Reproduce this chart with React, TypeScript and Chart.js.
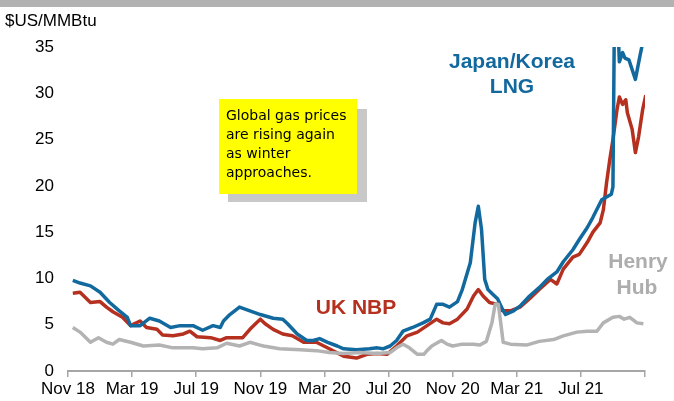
import React, { useEffect, useRef } from "react";
import { Chart, registerables } from "chart.js";

Chart.register(...registerables);

// months elapsed since 1 Nov 2018
const tickLabels = ["Nov 18", "Mar 19", "Jul 19", "Nov 19", "Mar 20", "Jul 20", "Nov 20", "Mar 21", "Jul 21", ""];

const jkmMonths = [0.3,0.75,1.4,2.0,2.6,3.2,3.7,3.9,4.5,5.1,5.7,6.4,7.0,7.8,8.4,9.05,9.5,9.7,10.1,10.7,11.35,12.0,12.8,13.4,13.7,14.3,14.9,15.3,15.7,16.2,16.8,17.2,18.0,18.8,19.3,19.65,20.1,20.5,20.9,21.5,22.15,22.6,23.0,23.4,23.8,24.3,24.6,25.1,25.4,25.6,25.8,26.0,26.2,26.5,26.8,27.1,27.3,27.8,28.2,28.8,29.4,29.9,30.5,30.9,31.5,31.9,32.4,32.75,33.3,33.9,34.0,34.1,34.25,34.4,34.6,34.75,35.0,35.4,35.67,35.86,36.0];
const jkmPrices = [9.8,9.5,9.2,8.5,7.4,6.5,5.8,4.9,4.9,5.7,5.4,4.7,4.9,4.9,4.4,4.9,4.7,5.4,6.1,6.9,6.5,6.1,5.7,5.6,5.1,4.0,3.3,3.3,3.5,3.1,2.7,2.4,2.3,2.4,2.5,2.4,2.7,3.3,4.3,4.7,5.2,5.6,7.2,7.2,6.9,7.5,8.8,11.7,16.0,17.8,15.3,9.9,8.8,8.3,7.8,6.7,6.1,6.5,7.0,8.1,9.0,9.9,10.7,11.8,13.1,14.2,15.5,16.6,18.5,19.1,19.9,40,40,33.4,34.4,33.8,33.6,31.5,33.9,35.5,40];

const nbpMonths = [0.3,0.75,1.4,2.0,2.4,2.8,3.4,3.9,4.5,4.9,5.55,5.9,6.55,7.2,7.6,8.05,8.9,9.5,9.9,10.9,11.35,11.7,12.0,12.3,12.8,13.4,14.0,14.7,15.5,16.3,17.2,18.0,18.65,19.3,19.9,20.5,21.15,21.8,22.4,23.0,23.4,23.8,24.3,24.9,25.3,25.6,25.9,26.3,26.8,27.1,27.6,28.2,28.8,29.4,30.1,30.5,30.9,31.5,31.9,32.4,32.75,33.2,33.4,33.6,33.8,34.0,34.25,34.4,34.6,34.8,34.9,35.2,35.4,35.6,35.85,36.05];
const nbpPrices = [8.4,8.5,7.4,7.5,6.9,6.4,5.8,4.9,5.4,4.7,4.5,3.9,3.8,4.0,4.3,3.7,3.6,3.3,3.6,3.6,4.5,5.1,5.6,5.1,4.5,4.0,3.8,3.1,3.1,2.4,1.6,1.4,1.8,1.9,1.8,2.7,3.8,4.2,4.9,5.6,5.2,5.1,5.6,6.7,8.1,8.8,8.1,7.4,7.2,6.5,6.5,6.9,7.8,8.8,9.9,9.4,11.0,12.3,12.6,13.9,15.0,16.0,17.4,20.3,22.8,25.0,28.2,29.6,28.8,29.3,27.9,26.1,23.6,25.3,28.2,29.8];

const hhMonths = [0.3,0.75,1.4,1.9,2.4,2.8,3.2,3.9,4.7,5.7,6.55,7.8,8.4,9.3,9.9,10.7,11.35,11.98,12.2,13.2,14.5,15.5,16.3,17.2,18.2,19.3,20.1,20.5,20.9,21.3,21.8,22.2,22.4,22.7,23.1,23.3,23.65,24.0,24.6,25.3,25.7,26.1,26.45,26.65,26.85,27.05,27.15,27.6,28.6,29.4,30.3,30.9,31.75,32.4,33.0,33.4,34.0,34.4,34.7,35.05,35.5,35.9];
const hhPrices = [4.7,4.2,3.1,3.6,3.1,2.9,3.4,3.1,2.7,2.8,2.5,2.5,2.4,2.5,3.0,2.7,3.1,2.8,2.7,2.4,2.3,2.2,2.0,1.9,2.0,1.9,2.0,2.5,2.9,2.5,1.8,1.8,2.2,2.7,3.1,3.3,2.9,2.7,2.9,2.9,2.8,3.2,5.2,7.2,7.2,4.5,3.1,2.9,2.8,3.2,3.4,3.8,4.2,4.3,4.3,5.2,5.8,5.9,5.6,5.8,5.2,5.1];

const BLUE = "#12699e";
const RED = "#b5301f";
const GREY = "#b3b3b3";

const zip = (xs: number[], ys: number[]) => xs.map((x, i) => ({ x, y: ys[i] }));

const decor = {
  id: "decor",
  afterDraw(chart: any) {
    const ctx = chart.ctx;
    ctx.save();
    // top grey band
    ctx.fillStyle = "#b2b2b2";
    ctx.fillRect(0, 0, 674, 7);
    // unit label
    ctx.fillStyle = "#000";
    ctx.font = "17px 'Liberation Sans', Arial, sans-serif";
    ctx.textBaseline = "middle";
    ctx.textAlign = "left";
    ctx.fillText("$US/MMBtu", 5, 21);
    // note box
    ctx.fillStyle = "#c8c8c8";
    ctx.fillRect(228, 109, 139, 93);
    ctx.fillStyle = "#ffff00";
    ctx.fillRect(219, 99, 138, 95);
    ctx.fillStyle = "#000";
    ctx.font = "14px 'DejaVu Sans', sans-serif";
    const lines = ["Global gas prices", "are rising again", "as winter", "approaches."];
    lines.forEach((t, i) => ctx.fillText(t, 226, 116 + i * 19));
    // series labels
    ctx.textAlign = "center";
    ctx.font = "bold 21px 'Liberation Sans', Arial, sans-serif";
    ctx.fillStyle = BLUE;
    ctx.fillText("Japan/Korea", 512, 62);
    ctx.fillText("LNG", 512, 87);
    ctx.fillStyle = RED;
    ctx.fillText("UK NBP", 356, 308);
    ctx.fillStyle = "#adadad";
    ctx.fillText("Henry", 638, 262);
    ctx.fillText("Hub", 637, 288);
    ctx.restore();
  },
};

export default function App() {
  const ref = useRef<HTMLCanvasElement>(null);
  useEffect(() => {
    if (!ref.current) return;
    const chart = new Chart(ref.current, {
      type: "line",
      data: {
        datasets: [
          { label: "Henry Hub", data: zip(hhMonths, hhPrices), borderColor: GREY, borderWidth: 3.5, pointRadius: 0, tension: 0, borderJoinStyle: "round" },
          { label: "Japan/Korea LNG", data: zip(jkmMonths, jkmPrices), borderColor: BLUE, borderWidth: 3.5, pointRadius: 0, tension: 0, borderJoinStyle: "round" },
          { label: "UK NBP", data: zip(nbpMonths, nbpPrices), borderColor: RED, borderWidth: 3.5, pointRadius: 0, tension: 0, borderJoinStyle: "round" },
        ],
      },
      options: {
        responsive: false,
        animation: false,
        layout: { padding: { top: 47, right: 29, left: 0, bottom: 0 } },
        plugins: { legend: { display: false }, tooltip: { enabled: false } },
        scales: {
          x: {
            type: "linear",
            min: 0,
            max: 36,
            afterFit: (s: any) => { s.height = 30; },
            border: { display: true, color: "#a6a6a6", width: 2 },
            grid: { display: true, drawOnChartArea: false, drawTicks: true, tickLength: 6, color: "#a6a6a6", lineWidth: 1.5 },
            ticks: {
              stepSize: 4,
              autoSkip: false,
              maxRotation: 0,
              padding: 2,
              color: "#000",
              font: { family: "'Liberation Sans', Arial, sans-serif", size: 17 },
              callback: (v: any) => tickLabels[Math.round(Number(v) / 4)] ?? "",
            },
          },
          y: {
            min: 0,
            max: 35,
            afterFit: (s: any) => { s.width = 68; },
            border: { display: false },
            grid: { display: false, drawTicks: false },
            ticks: {
              stepSize: 5,
              padding: 14,
              color: "#000",
              font: { family: "'Liberation Sans', Arial, sans-serif", size: 17 },
            },
          },
        },
      },
      plugins: [decor],
    });
    return () => chart.destroy();
  }, []);
  return (
    <div style={{ position: "fixed", left: 0, top: 0, width: 674, height: 401, background: "#fff" }}>
      <canvas ref={ref} width={674} height={401} style={{ width: 674, height: 401, display: "block" }} />
    </div>
  );
}
